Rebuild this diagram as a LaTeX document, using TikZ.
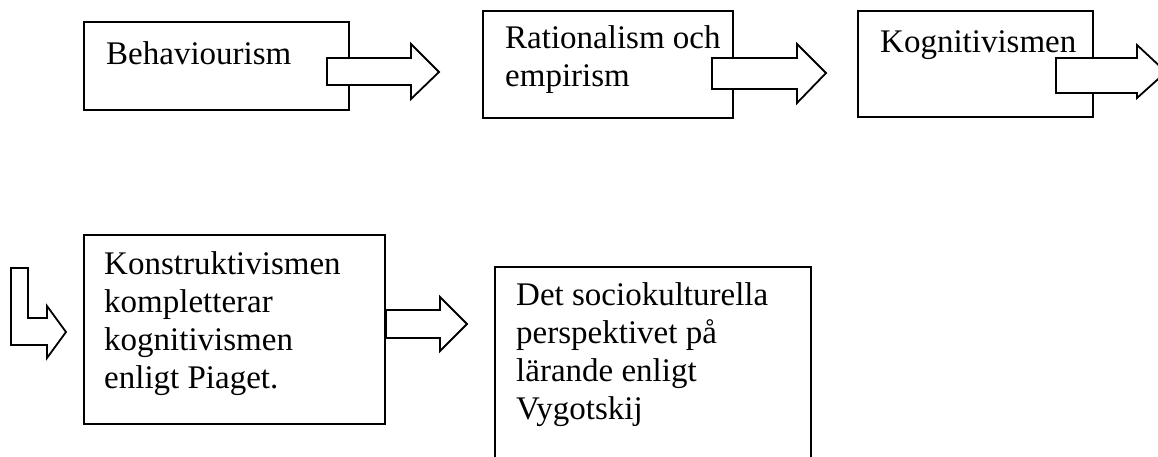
\documentclass[tikz,border=0pt]{standalone}
\usepackage{fontspec}
\setmainfont{Liberation Serif}
\begin{document}
\begin{tikzpicture}[x=1pt,y=-1pt,
  boxframe/.style={draw=black,line width=1.8pt,fill=white},
  boxtext/.style={anchor=base west,inner sep=0pt,align=left,font=\fontsize{33}{38}\selectfont},
  blockarrow/.style={draw=black,line width=1.8pt,fill=white,line join=miter}]
\useasboundingbox (0,0) rectangle (1158,456);
\clip (0,0) rectangle (1158,456);
% boxes
\draw[boxframe] (84,22) rectangle (349,110);
\coordinate (b1) at (84,22);
\draw[boxframe] (483,11) rectangle (733,118);
\coordinate (b2) at (483,11);
\draw[boxframe] (858,11) rectangle (1093,117);
\coordinate (b3) at (858,11);
\draw[boxframe] (84,235) rectangle (385,424);
\coordinate (b4) at (84,235);
\draw[boxframe] (495,267) rectangle (811,480);
\coordinate (b5) at (495,267);
% texts (anchor = baseline of last line)
\node[boxtext] (t1) at (106,64) {Behaviourism};
\node[boxtext] (t2) at (505,86) {Rationalism och\\empirism};
\node[boxtext] (t3) at (880,52) {Kognitivismen};
\node[boxtext] (t4) at (104,388) {Konstruktivismen\\kompletterar\\kognitivismen\\enligt Piaget.};
\node[boxtext] (t5) at (516,419) {Det sociokulturella\\perspektivet på\\lärande enligt\\Vygotskij};
% block arrows
\draw[blockarrow] (327,58) -- (411,58) -- (411,44) -- (439,72) -- (411,99) -- (411,85) -- (327,85) -- cycle;
\draw[blockarrow] (712,58) -- (797,58) -- (797,44) -- (826,73) -- (797,103) -- (797,89) -- (712,89) -- cycle;
\draw[blockarrow] (1056,58) -- (1137,58) -- (1137,45) -- (1166,72) -- (1137,98) -- (1137,93) -- (1056,93) -- cycle;
\draw[blockarrow] (11,268) -- (28,268) -- (28,318) -- (47,318) -- (47,306) -- (66,332) -- (47,358) -- (47,345) -- (11,345) -- cycle;
\draw[blockarrow] (386,310) -- (440,310) -- (440,297) -- (467,324) -- (440,351) -- (440,338) -- (386,338) -- cycle;
\end{tikzpicture}
\end{document}
